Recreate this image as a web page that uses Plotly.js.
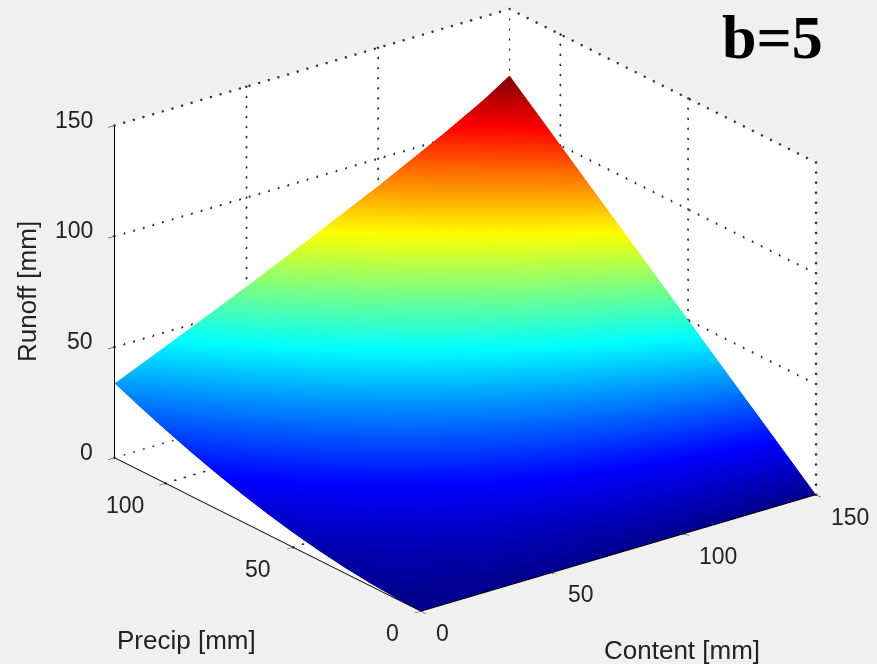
<!DOCTYPE html>
<html><head><meta charset="utf-8">
<script src="https://cdn.plot.ly/plotly-3.0.1.min.js"></script>
<style>html,body{margin:0;padding:0;background:#f0f0f0}#c{width:877px;height:664px}</style>
</head><body><div id="c"></div>
<script>
const content = [0,25,50,75,100,125,140,150];
const precip = [0,10,20,30,40,50,60,70,80,90,100,110,120];
const runoff = [
 [0,0,0,0,0,0,0,0],
 [0.27,1.65,3.08,4.56,6.13,7.84,9.00,10],
 [1.08,3.77,6.56,9.45,12.51,15.83,18.08,20],
 [2.39,6.34,10.42,14.66,19.13,23.97,27.24,30],
 [4.20,9.34,14.65,20.17,25.98,32.26,36.48,40],
 [6.45,12.75,19.23,25.96,33.04,40.67,45.78,50],
 [9.15,16.54,24.15,32.03,40.31,49.21,55.15,60],
 [12.28,20.70,29.38,38.35,47.76,57.86,64.58,70],
 [15.81,25.23,34.91,44.92,55.40,66.62,74.06,80],
 [19.72,30.07,40.71,51.71,63.20,75.49,83.59,90],
 [23.99,35.24,46.80,58.73,71.18,84.44,93.17,100],
 [28.61,40.72,53.13,65.94,79.31,93.49,102.78,110],
 [33.56,46.48,59.69,73.35,87.55,102.62,112.44,120]
];
const xTicks = [0,50,100,150];
const yTicks = [0,50,100];
const zTicks = [0,50,100,150];
const xMax = 150, yMax = 120, zMax = 150;
const jet = [[0,'rgb(0,0,143)'],[0.125,'rgb(0,0,255)'],[0.375,'rgb(0,255,255)'],[0.625,'rgb(255,255,0)'],[0.875,'rgb(255,0,0)'],[1,'rgb(128,0,0)']];

// dotted grid on the back walls and floor, derived from the tick arrays
const gx=[],gy=[],gz=[];
function dots(a,b,n){for(let i=0;i<=n;i++){const t=i/n;gx.push(a[0]+(b[0]-a[0])*t);gy.push(a[1]+(b[1]-a[1])*t);gz.push(a[2]+(b[2]-a[2])*t);}}
const nx=41,ny=34,nz=33;
zTicks.forEach(z=>{dots([0,yMax,z],[xMax,yMax,z],nx);dots([xMax,yMax,z],[xMax,0,z],ny);});
xTicks.forEach(x=>{if(x>0){dots([x,yMax,0],[x,yMax,zMax],nz);dots([x,0,0],[x,yMax,0],ny);}});
yTicks.forEach(y=>{if(y>0){dots([xMax,y,0],[xMax,y,zMax],nz);dots([0,y,0],[xMax,y,0],nx);}});
dots([xMax,0,0],[xMax,0,zMax],nz);

const axisCommon = {showgrid:false,zeroline:false,showline:true,linecolor:'#000',linewidth:2,ticks:'outside',ticklen:8,tickcolor:'#000',showticklabels:false,
  showbackground:true,backgroundcolor:'#fff',showspikes:false,title:{text:''}};
const tickFont = {family:'Liberation Sans',size:23,color:'#222'};
const labelFont = {family:'Liberation Sans',size:26,color:'#222'};
const tickLabels = [
 ...xTicks.map(v=>({x:v,y:0,z:0,text:String(v),showarrow:false,font:tickFont,xanchor:'left',yanchor:'middle',xshift:13,yshift:-22})),
 ...yTicks.map(v=>({x:0,y:v,z:0,text:String(v),showarrow:false,font:tickFont,xanchor:'right',yanchor:'middle',xshift:-20,yshift:-22})),
 ...zTicks.map(v=>({x:0,y:yMax,z:v,text:String(v),showarrow:false,font:tickFont,xanchor:'right',yanchor:'middle',xshift:-20,yshift:6}))
];

Plotly.newPlot('c',[
 {type:'surface',x:content,y:precip,z:runoff,colorscale:jet,cmin:0,cmax:120,showscale:false,hoverinfo:'skip',
  lighting:{ambient:1,diffuse:0,specular:0,roughness:1,fresnel:0}},
 {type:'scatter3d',mode:'markers',x:gx,y:gy,z:gz,marker:{color:'#333',size:1.5,line:{width:0}},hoverinfo:'skip',showlegend:false}
],{
 width:877,height:664,margin:{l:0,r:0,t:0,b:0},paper_bgcolor:'#f0f0f0',showlegend:false,
 scene:{domain:{x:[0,1],y:[0,1]},aspectmode:'manual',aspectratio:{x:1.5,y:1.516,z:1.084},
  camera:{eye:{x:-1.7654,y:-2.1683,z:1.0922},center:{x:-0.0794,y:0.0289,z:-0.0608},up:{x:0,y:0,z:1},projection:{type:'orthographic'}},
  xaxis:Object.assign({},axisCommon,{range:[0,xMax],tickvals:xTicks}),
  yaxis:Object.assign({},axisCommon,{range:[0,yMax],tickvals:yTicks}),
  zaxis:Object.assign({},axisCommon,{range:[0,zMax],tickvals:zTicks}),
  annotations:tickLabels},
 annotations:[
  {xref:'paper',yref:'paper',x:772/877,y:1-37/664,text:'<b>b=5</b>',showarrow:false,font:{family:'Liberation Serif',size:62,color:'#000'},xanchor:'center',yanchor:'middle'},
  {xref:'paper',yref:'paper',x:186/877,y:1-640/664,text:'Precip [mm]',showarrow:false,font:labelFont,xanchor:'center',yanchor:'middle'},
  {xref:'paper',yref:'paper',x:682/877,y:1-650/664,text:'Content [mm]',showarrow:false,font:labelFont,xanchor:'center',yanchor:'middle'},
  {xref:'paper',yref:'paper',x:27/877,y:1-292/664,text:'Runoff [mm]',textangle:-90,showarrow:false,font:labelFont,xanchor:'center',yanchor:'middle'}
 ]
},{displayModeBar:false});
</script></body></html>
